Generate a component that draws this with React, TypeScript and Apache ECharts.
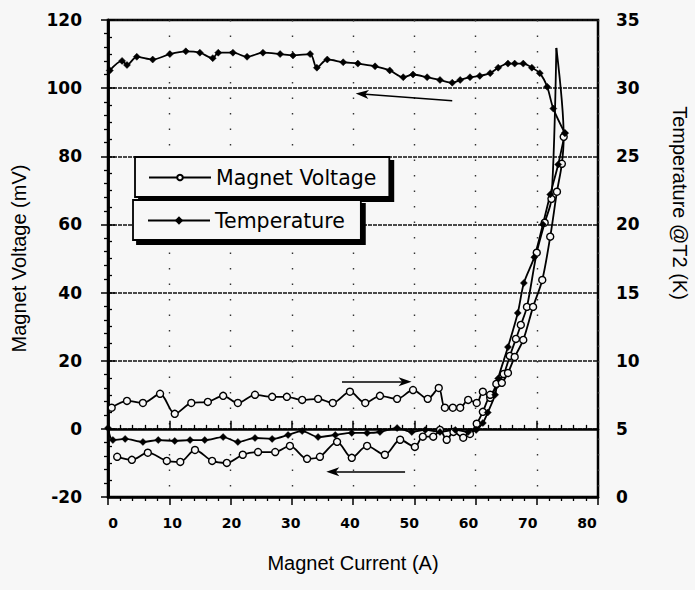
import { useEffect, useRef } from "react";
import * as echarts from "echarts";

// Magnet current sweep: [current (A), magnet voltage (mV)]
const voltageUp: [number, number][] = [
  [0.6, 6.2], [3.1, 8.2], [5.7, 7.6], [8.5, 10.3], [10.9, 4.4], [13.6, 7.6], [16.3, 7.9],
  [18.8, 9.7], [21.2, 7.6], [24.0, 10.0], [26.8, 9.4], [29.2, 9.4], [31.7, 8.5], [34.3, 8.8],
  [36.7, 7.6], [39.5, 10.9], [42.0, 7.6], [44.4, 9.7], [47.2, 8.8], [49.8, 11.4], [52.2, 8.8],
  [54.0, 12.0], [55.0, 6.2], [56.3, 6.2], [57.5, 6.2], [58.8, 8.5], [60.2, 7.6], [61.2, 10.9],
  [62.4, 9.1], [63.4, 13.2], [64.6, 16.1], [65.6, 21.4], [66.6, 26.4], [67.4, 30.5],
  [68.4, 35.8], [70.0, 51.7], [71.3, 60.5], [72.4, 67.5],
];
const voltagePeak: [number, number] = [73.2, 111.8];
const voltageDown: [number, number][] = [
  [74.4, 85.7], [74.1, 77.8], [73.3, 69.6], [72.2, 56.4], [70.9, 43.7], [69.4, 35.8],
  [67.8, 26.1], [66.4, 21.1], [65.3, 16.4], [64.3, 13.5], [62.4, 10.0], [61.2, 5.0],
  [60.2, 1.5], [59.1, -1.5], [58.0, -2.6], [56.4, -0.9], [55.3, -3.2], [54.2, -0.3],
  [53.1, -2.3], [51.4, -2.3], [50.1, -5.3], [47.7, -3.2], [45.2, -7.6], [42.3, -5.0],
  [39.8, -8.5], [37.4, -3.8], [34.6, -8.2], [32.5, -8.8], [29.7, -5.0], [27.3, -6.8],
  [24.5, -6.8], [22.0, -7.6], [19.4, -10.0], [17.0, -9.4], [14.2, -6.2], [11.8, -9.7],
  [9.6, -9.4], [6.5, -7.0], [3.9, -9.1], [1.5, -8.2],
];

// Temperature at T2: [current (A), temperature (K)]
const tempUp: [number, number][] = [
  [0, 5.06], [0.8, 4.18], [2.8, 4.26], [5.7, 4.04], [8.2, 4.18], [10.9, 4.11], [13.4, 4.18],
  [15.8, 4.18], [18.8, 4.4], [21.2, 4.04], [24.0, 4.33], [26.8, 4.26], [29.4, 4.55],
  [31.7, 4.84], [34.3, 4.4], [37.1, 4.55], [39.8, 4.7], [42.3, 4.7], [44.4, 4.77],
  [47.2, 5.06], [49.6, 4.77], [51.8, 4.92], [54.2, 4.77], [56.7, 4.92], [58.8, 4.77],
  [60.1, 4.92], [61.2, 5.43], [62.0, 6.2], [63.2, 7.5], [63.7, 8.7], [65.3, 11.0],
  [66.9, 13.5], [67.9, 15.7], [69.6, 17.6], [71.0, 20.0], [72.2, 22.2], [73.5, 24.4],
  [74.6, 26.7],
];
const tempDown: [number, number][] = [
  [72.7, 28.5], [71.7, 30.1], [70.5, 31.1], [69.2, 31.5], [67.8, 31.8], [66.4, 31.8],
  [65.3, 31.8], [63.7, 31.5], [62.4, 31.1], [60.7, 30.9], [59.1, 30.8], [57.5, 30.6],
  [56.2, 30.4], [54.2, 30.6], [52.1, 30.8], [49.8, 31.0], [48.2, 30.8], [46.0, 31.3],
  [43.6, 31.6], [40.8, 31.8], [38.4, 31.9], [35.8, 32.1], [34.1, 31.5], [33.0, 32.5],
  [30.2, 32.4], [28.1, 32.5], [25.3, 32.6], [22.7, 32.3], [20.4, 32.6], [18.0, 32.6],
  [17.1, 32.2], [15.0, 32.6], [12.7, 32.7], [10.1, 32.5], [7.3, 32.1], [4.7, 32.3],
  [3.1, 31.7], [2.3, 32.0], [0.3, 31.3],
];

// Sweep direction arrows: [fromA, frommV, toA, tomV]
const sweepArrows: [number, number, number, number][] = [
  [56.2, 96.3, 41.5, 98.3],
  [38.2, 13.8, 48.5, 13.8],
  [48.5, -12.6, 36.7, -12.6],
];

const legendNames = ["Magnet Voltage", "Temperature"];
const currentAxisTitle = "Magnet Current (A)";
const voltageAxisTitle = "Magnet Voltage (mV)";
const temperatureAxisTitle = "Temperature @T2 (K)";

const BG = "#f7f7f7";
const INK = "#000";
const arrowHead = "path://M5,0 L10,13 L5,9.5 L0,13 Z";

export default function App() {
  const ref = useRef<HTMLDivElement>(null);

  useEffect(() => {
    document.body.style.margin = "0";
    if (!ref.current) return;
    const chart = echarts.init(ref.current, undefined, { renderer: "svg" });

    const tickFont = { fontFamily: "DejaVu Sans", fontWeight: "bold" as const, color: INK };
    const titleFont = { fontFamily: "Liberation Sans", fontSize: 20, color: INK };

    const lineCommon = {
      type: "line" as const,
      smooth: 0.3,
      lineStyle: { color: INK, width: 1.8 },
      emphasis: { disabled: true },
      z: 3,
    };
    const voltageStyle = {
      symbol: "circle",
      symbolSize: 7,
      itemStyle: { color: BG, borderColor: INK, borderWidth: 1.4 },
    };
    const tempStyle = {
      symbol: "diamond",
      symbolSize: 7,
      itemStyle: { color: INK, borderColor: INK, borderWidth: 0.5 },
    };

    const legendBox = {
      orient: "horizontal" as const,
      itemWidth: 62,
      itemHeight: 7,
      backgroundColor: BG,
      borderColor: INK,
      borderWidth: 1.8,
      borderRadius: 0,
      shadowColor: INK,
      shadowBlur: 0,
      shadowOffsetX: 4,
      shadowOffsetY: 4,
      selectedMode: false as const,
      textStyle: { fontFamily: "DejaVu Sans", fontSize: 20.5, color: INK },
    };

    const frameAxis = {
      axisLine: { show: true, lineStyle: { color: INK, width: 2.5 } },
      axisTick: { show: true, inside: true, length: 8, lineStyle: { color: INK, width: 1.5 } },
    };

    chart.setOption({
      animation: false,
      backgroundColor: BG,
      grid: [
        {
          left: 108,
          right: 97,
          top: 20,
          bottom: 93,
          show: true,
          borderColor: INK,
          borderWidth: 2.5,
          backgroundColor: "transparent",
        },
        // carrier for the current tick labels, set slightly inside the frame
        { left: 113, right: 108, top: 20, bottom: 93, show: false },
      ],
      legend: [
        { ...legendBox, data: [legendNames[0]], left: 135, top: 157, padding: [10, 13, 9, 13], z: 5 },
        { ...legendBox, data: [legendNames[1]], left: 133, top: 200, padding: [10, 16, 9, 14], z: 6 },
      ],
      xAxis: [
        {
          type: "value",
          gridIndex: 0,
          min: 0,
          max: 80,
          interval: 10,
          position: "bottom",
          ...frameAxis,
          minorTick: { show: true, splitNumber: 5, length: 4, lineStyle: { color: INK, width: 1.3 } },
          axisLabel: { show: false },
          splitLine: { show: true, lineStyle: { color: "#333", width: 1.4, type: [1.5, 14] } },
          name: currentAxisTitle,
          nameLocation: "middle",
          nameGap: 56,
          nameTextStyle: titleFont,
        },
        {
          type: "value",
          gridIndex: 0,
          min: 0,
          max: 80,
          interval: 10,
          position: "top",
          ...frameAxis,
          minorTick: { show: true, splitNumber: 5, length: 4, lineStyle: { color: INK, width: 1.3 } },
          axisLabel: { show: false },
          splitLine: { show: false },
        },
        {
          type: "value",
          gridIndex: 1,
          min: 0,
          max: 80,
          interval: 10,
          position: "bottom",
          axisLine: { show: false },
          axisTick: { show: false },
          splitLine: { show: false },
          axisLabel: { ...tickFont, fontSize: 14, margin: 19 },
        },
      ],
      yAxis: [
        {
          type: "value",
          gridIndex: 0,
          min: -20,
          max: 120,
          interval: 20,
          position: "left",
          ...frameAxis,
          axisTick: { show: true, inside: true, length: 7, lineStyle: { color: INK, width: 1.5 } },
          minorTick: { show: true, splitNumber: 4, length: 4, lineStyle: { color: INK, width: 1.3 } },
          axisLabel: { ...tickFont, fontSize: 17, margin: 26 },
          splitLine: { show: true, lineStyle: { color: "#111", width: 1.5, type: [4, 1] } },
          name: voltageAxisTitle,
          nameLocation: "middle",
          nameGap: 79,
          nameTextStyle: titleFont,
        },
        {
          type: "value",
          gridIndex: 0,
          min: 0,
          max: 35,
          interval: 5,
          position: "right",
          ...frameAxis,
          axisTick: { show: true, inside: true, length: 7, lineStyle: { color: INK, width: 1.5 } },
          minorTick: { show: true, splitNumber: 5, length: 4, lineStyle: { color: INK, width: 1.3 } },
          axisLabel: { ...tickFont, fontSize: 17, margin: 18 },
          splitLine: { show: false },
        },
        {
          type: "value",
          gridIndex: 1,
          min: -20,
          max: 120,
          show: false,
        },
      ],
      graphic: [
        {
          type: "text",
          x: 680,
          y: 203,
          rotation: -Math.PI / 2,
          style: {
            text: temperatureAxisTitle,
            fontFamily: "Liberation Sans",
            fontSize: 20,
            fill: INK,
            align: "center",
            verticalAlign: "middle",
          },
        },
      ],
      series: [
        {
          ...lineCommon,
          ...voltageStyle,
          name: legendNames[0],
          data: [...voltageUp, { value: voltagePeak, symbol: "none" }],
          markLine: {
            silent: true,
            symbol: ["none", arrowHead],
            symbolSize: [9, 13],
            label: { show: false },
            lineStyle: { color: INK, width: 1.6, type: "solid" },
            emphasis: { disabled: true },
            data: sweepArrows.map(([x1, y1, x2, y2]) => [{ coord: [x1, y1] }, { coord: [x2, y2] }]),
          },
        },
        {
          ...lineCommon,
          ...voltageStyle,
          name: legendNames[0],
          data: [{ value: voltagePeak, symbol: "none" }, ...voltageDown],
        },
        {
          ...lineCommon,
          ...tempStyle,
          name: legendNames[1],
          yAxisIndex: 1,
          data: tempUp,
        },
        {
          ...lineCommon,
          ...tempStyle,
          name: legendNames[1],
          yAxisIndex: 1,
          data: [tempUp[tempUp.length - 1], ...tempDown],
        },
      ],
    });

    return () => chart.dispose();
  }, []);

  return <div ref={ref} style={{ width: 695, height: 590 }} />;
}
